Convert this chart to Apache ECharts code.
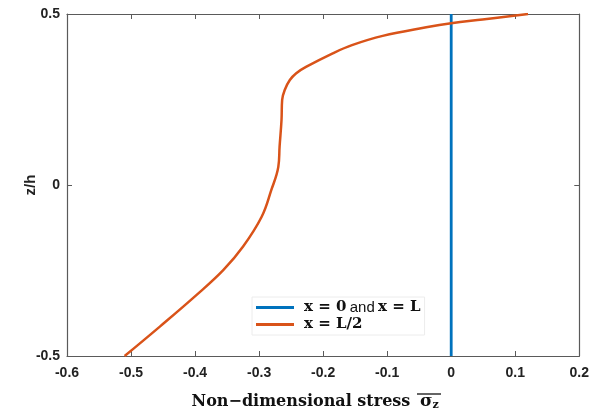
<!DOCTYPE html>
<html>
<head>
<meta charset="utf-8">
<script src="https://cdn.jsdelivr.net/npm/echarts@6/dist/echarts.min.js"></script>
<style>
  html, body { margin: 0; padding: 0; background: #fff; }
  #stressChart { width: 592px; height: 418px; }
</style>
</head>
<body>
<div id="stressChart"></div>
<script>
// thickness coordinate z/h
const zCoords = [-0.5, -0.414, -0.322, -0.249, -0.18, -0.093, -0.015, 0.053, 0.112, 0.19, 0.249,
                 0.278, 0.307, 0.327, 0.346, 0.385, 0.409, 0.436, 0.461, 0.473, 0.484, 0.5];
// stress at x = L/2
const stressMid = [-0.51, -0.455, -0.398, -0.356, -0.325, -0.296, -0.281, -0.27, -0.268, -0.265, -0.264,
                   -0.26, -0.252, -0.242, -0.226, -0.185, -0.155, -0.107, -0.039, 0.0, 0.049, 0.12];
// stress at x = 0 and x = L
const zEnds = [-0.5, 0.5];
const stressEnds = [0, 0];
const xTicks = [-0.6, -0.5, -0.4, -0.3, -0.2, -0.1, 0, 0.1, 0.2];
const yTicks = [-0.5, 0, 0.5];

const blue = '#0072BD';
const orange = '#D95319';
const axisGrey = '#5a5a5a';

let chart = echarts.init(document.getElementById('stressChart'));

const tickLabel = { color: '#222', fontFamily: 'Liberation Sans', fontWeight: 'bold', fontSize: 14 };

function boxAxis(base) {
    return Object.assign({
        type: 'value',
        axisLine: { show: true, onZero: false, lineStyle: { color: axisGrey, width: 1.2 } },
        axisTick: { show: true, inside: true, length: 5, lineStyle: { color: axisGrey } },
        splitLine: { show: false }
    }, base);
}

let option = {
    animation: false,
    grid: { left: 67, right: 12, top: 14, bottom: 62 },
    xAxis: [
        boxAxis({
            min: xTicks[0], max: xTicks[xTicks.length - 1], interval: 0.1, position: 'bottom',
            axisLabel: Object.assign({ margin: 10, formatter: v => String(+v.toFixed(1)) }, tickLabel),
            name: 'Non\u2212dimensional stress {s|σ}{z|z}',
            nameLocation: 'middle', nameGap: 36,
            nameTextStyle: {
                fontFamily: 'DejaVu Serif', fontWeight: 'bold', fontSize: 16, color: '#111',
                padding: [0, 16, 0, 0],
                rich: {
                    s: { fontFamily: 'DejaVu Serif', fontWeight: 'bold', fontSize: 17, color: '#111', padding: [0, 0, 0, 4] },
                    z: { fontFamily: 'DejaVu Serif', fontWeight: 'bold', fontSize: 11, color: '#111', padding: [8, 0, 0, 0] }
                }
            }
        }),
        boxAxis({
            min: xTicks[0], max: xTicks[xTicks.length - 1], interval: 0.1, position: 'top',
            axisLabel: { show: false }
        })
    ],
    yAxis: [
        boxAxis({
            min: yTicks[0], max: yTicks[yTicks.length - 1], interval: 0.5, position: 'left',
            axisLabel: Object.assign({ margin: 7, formatter: v => String(+v.toFixed(1)) }, tickLabel),
            name: 'z/h', nameLocation: 'middle', nameGap: 29, nameRotate: 90, nameMoveOverlap: false,
            nameTextStyle: { fontFamily: 'Liberation Sans', fontWeight: 'bold', fontSize: 15, color: '#222' }
        }),
        boxAxis({
            min: yTicks[0], max: yTicks[yTicks.length - 1], interval: 0.5, position: 'right',
            axisLabel: { show: false }
        })
    ],
    legend: {
        left: 252, top: 297,
        orient: 'vertical',
        backgroundColor: '#fff',
        borderColor: '#ececec', borderWidth: 1,
        padding: [3, 4, 3, 4],
        itemGap: 2,
        itemWidth: 38, itemHeight: 3,
        icon: 'rect',
        data: ['ends', 'mid'],
        formatter: function (name) {
            return name === 'ends'
                ? '{sp|}{m|x = 0} {a|and} {m|x = L}'
                : '{sp|}{m|x = L/2}';
        },
        textStyle: {
            rich: {
                sp: { width: 5, height: 18 },
                m: { fontFamily: 'DejaVu Serif', fontWeight: 'bold', fontSize: 15, color: '#111', height: 18 },
                a: { fontFamily: 'Liberation Sans', fontSize: 15, color: '#111', height: 18 }
            }
        }
    },
    graphic: [
        { type: 'line', shape: { x1: 417, y1: 394, x2: 441, y2: 394 }, style: { stroke: '#111', lineWidth: 1.3 } }
    ],
    series: [
        {
            name: 'ends', type: 'line', showSymbol: false, color: blue,
            lineStyle: { width: 2.8, color: blue },
            data: zEnds.map((z, i) => [stressEnds[i], z])
        },
        {
            name: 'mid', type: 'line', showSymbol: false, smooth: 0.4, color: orange,
            lineStyle: { width: 2.5, color: orange },
            data: zCoords.map((z, i) => [stressMid[i], z])
        }
    ]
};

chart.setOption(option);
</script>
</body>
</html>
